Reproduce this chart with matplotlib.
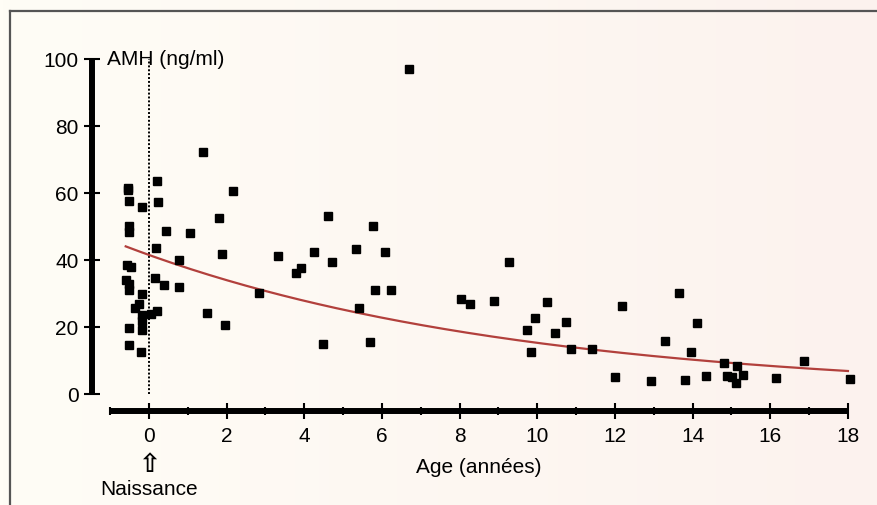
import numpy as np
import matplotlib
matplotlib.use("Agg")
import matplotlib.pyplot as plt
from matplotlib.lines import Line2D

plt.rcParams['font.family'] = ['Liberation Sans', 'DejaVu Sans']

# AMH (ng/ml) versus age (years)
age = [-0.55, -0.55, -0.52, -0.51, -0.51, -0.57, -0.47, -0.59, -0.51, -0.51, -0.52, -0.52,
       -0.19, -0.18, -0.25, -0.35, -0.17, -0.17, -0.18, -0.20,
       0.05, 0.21, 0.16, 0.18, 0.20, 0.22, 0.44, 0.38, 0.77, 0.77, 1.06, 1.40, 1.49,
       1.81, 1.89, 1.96, 2.17, 2.84,
       3.32, 3.79, 3.91, 4.25, 4.47, 4.62, 4.71, 5.32, 5.40, 5.70, 5.76, 5.83, 6.09, 6.23, 6.70,
       8.03, 8.27, 8.89, 9.27, 9.73, 9.85, 9.94, 10.25, 10.46, 10.73, 10.88, 11.40,
       12.00, 12.19, 12.93, 13.30, 13.64, 13.81, 13.95, 14.10, 14.34, 14.82, 14.88, 15.01,
       15.11, 15.13, 15.30, 16.15, 16.88, 18.05]
amh = [61.5, 60.8, 57.7, 50.0, 48.4, 38.5, 37.8, 34.1, 32.7, 31.1, 19.7, 14.6,
       55.8, 29.9, 26.8, 25.6, 23.6, 21.9, 19.2, 12.6,
       24.0, 24.8, 34.5, 43.6, 63.6, 57.2, 48.6, 32.5, 39.9, 31.8, 48.2, 72.1, 24.2,
       52.6, 41.7, 20.7, 60.7, 30.1,
       41.3, 36.2, 37.6, 42.4, 14.8, 53.2, 39.5, 43.2, 25.8, 15.4, 50.1, 31.0, 42.5, 30.9, 97.0,
       28.3, 27.0, 27.9, 39.5, 19.0, 12.6, 22.8, 27.6, 18.2, 21.4, 13.5, 13.5,
       5.1, 26.4, 4.0, 15.8, 30.2, 4.1, 12.6, 21.3, 5.5, 9.3, 5.3, 5.0,
       3.2, 8.4, 5.8, 4.7, 9.9, 4.4]

# exponential fit drawn on the figure: amh = a * exp(-b * age)
fit_a = 41.5
fit_b = 0.1
fit_range = (-0.6, 18.0)

x_major = [0, 2, 4, 6, 8, 10, 12, 14, 16, 18]
x_minor = [-1, 1, 3, 5, 7, 9, 11, 13, 15, 17]
y_ticks = [0, 20, 40, 60, 80, 100]

W, H = 877, 506
fig = plt.figure(figsize=(W / 100, H / 100), dpi=100)
fig.patch.set_facecolor('#fffdf6')

# faint cream -> pink background wash
bg = fig.add_axes([0, 0, 1, 1], zorder=-10)
grad = np.linspace(0, 1, 256)
c0 = np.array([255, 253, 246]) / 255
c1 = np.array([252, 242, 238]) / 255
img = c0[None, :] * (1 - grad[:, None]) + c1[None, :] * grad[:, None]
bg.imshow(img[None, :, :], aspect='auto', extent=[0, 1, 0, 1])
bg.set_axis_off()

# frame lines (top, left)
fig.add_artist(Line2D([10 / W, 1], [1 - 12 / H, 1 - 12 / H], color='#555555', lw=1.6))
fig.add_artist(Line2D([10 / W, 10 / W], [0, 1 - 12 / H], color='#555555', lw=1.6))

ax = fig.add_axes([80 / W, 76 / H, 780 / W, 390 / H])
ax.patch.set_alpha(0)
ax.set_xlim(-1.777, 18.31)
ax.set_ylim(-10.45, 105.97)

ax.plot(age, amh, 's', color='black', markersize=5.3, zorder=3)

xs = np.linspace(fit_range[0], fit_range[1], 200)
ax.plot(xs, fit_a * np.exp(-fit_b * xs), color='#b2403c', lw=1.6, zorder=2)

ax.plot([0, 0], [0, 100], color='black', lw=1.4, ls=(0, (1, 1)), zorder=1)

for s in ['top', 'right']:
    ax.spines[s].set_visible(False)
ax.spines['left'].set_position(('data', -1.47))
ax.spines['left'].set_bounds(0, 100)
ax.spines['bottom'].set_position(('data', -5.1))
ax.spines['bottom'].set_bounds(-1, 18)
for s in ['left', 'bottom']:
    ax.spines[s].set_linewidth(4.3)
    ax.spines[s].set_capstyle('butt')

fs = 15
ax.set_yticks(y_ticks)
ax.set_xticks(x_major)
ax.set_xticks(x_minor, minor=True)
ax.tick_params(axis='y', direction='inout', length=11, width=1.5, labelsize=fs, pad=4)
ax.tick_params(axis='x', which='major', direction='inout', length=11, width=1.5,
               labelsize=fs, pad=5)
ax.tick_params(axis='x', which='minor', direction='inout', length=6, width=1.5)

ax.text(-1.08, 100, 'AMH (ng/ml)', fontsize=fs, ha='left', va='center')
ax.text(8.5, -21.5, 'Age (années)', fontsize=fs, ha='center', va='center', clip_on=False)
ax.text(0, -20.8, '\u21e7', fontsize=19, fontweight='bold', ha='center', va='center',
        clip_on=False, family=['DejaVu Sans'])
ax.text(0, -28.2, 'Naissance', fontsize=fs, ha='center', va='center', clip_on=False)

fig.savefig('out.png', dpi=100, facecolor=fig.get_facecolor())
